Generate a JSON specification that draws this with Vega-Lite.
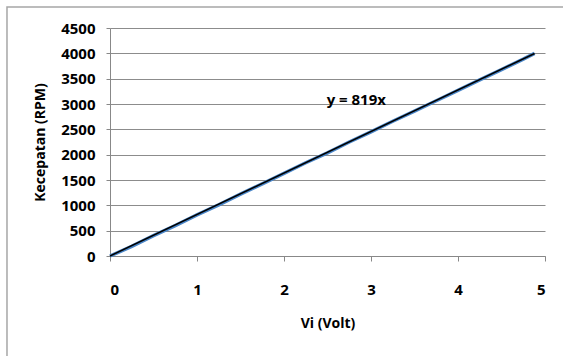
{
  "$schema": "https://vega.github.io/schema/vega-lite/v6.json",
  "width": 435,
  "height": 228,
  "autosize": "none",
  "padding": {"left": 110, "top": 28, "right": 18, "bottom": 100},
  "background": "white",
  "config": {
    "view": {"stroke": null},
    "font": "Open Sans",
    "axis": {
      "labelFont": "Open Sans",
      "labelFontWeight": "bold",
      "labelFontSize": 15,
      "labelColor": "#000",
      "titleFont": "Open Sans",
      "titleFontWeight": "bold",
      "titleFontSize": 14,
      "titleColor": "#000",
      "domainColor": "#888",
      "tickColor": "#888",
      "gridColor": "#8c8c8c",
      "gridWidth": 1
    }
  },
  "datasets": {
    "measured": [
      {"v": 0, "rpm": 0},
      {"v": 0.25, "rpm": 190},
      {"v": 0.5, "rpm": 402},
      {"v": 0.75, "rpm": 600},
      {"v": 1.0, "rpm": 812},
      {"v": 1.25, "rpm": 1010},
      {"v": 1.5, "rpm": 1220},
      {"v": 1.75, "rpm": 1425},
      {"v": 2.0, "rpm": 1630},
      {"v": 2.25, "rpm": 1840},
      {"v": 2.5, "rpm": 2035},
      {"v": 2.75, "rpm": 2250},
      {"v": 3.0, "rpm": 2450},
      {"v": 3.25, "rpm": 2660},
      {"v": 3.5, "rpm": 2860},
      {"v": 3.75, "rpm": 3065},
      {"v": 4.0, "rpm": 3270},
      {"v": 4.25, "rpm": 3475},
      {"v": 4.5, "rpm": 3680},
      {"v": 4.75, "rpm": 3885},
      {"v": 4.88, "rpm": 4000}
    ],
    "trend": [
      {"v": 0, "rpm": 0},
      {"v": 4.88, "rpm": 3997}
    ],
    "label": [
      {"v": 2.49, "rpm": 3080, "text": "y = 819x"}
    ],
    "frame": [
      {"x1": -1.184, "x2": 6, "y1": 4914, "y2": -3000}
    ]
  },
  "encoding": {
    "x": {
      "field": "v", "type": "quantitative",
      "scale": {"domain": [0, 5], "nice": false},
      "axis": {"title": "Vi (Volt)", "values": [0, 1, 2, 3, 4, 5], "format": "d", "grid": false, "tickSize": 5, "labelPadding": 21, "titlePadding": 19}
    },
    "y": {
      "field": "rpm", "type": "quantitative",
      "scale": {"domain": [0, 4500], "nice": false},
      "axis": {"title": "Kecepatan (RPM)", "values": [0, 500, 1000, 1500, 2000, 2500, 3000, 3500, 4000, 4500], "format": "d", "tickSize": 4, "labelPadding": 11, "titlePadding": 13}
    }
  },
  "layer": [
    {
      "data": {"name": "frame"},
      "mark": {"type": "rect", "fill": null, "stroke": "#a6a6a6", "strokeWidth": 1.5, "clip": false},
      "encoding": {
        "x": {"field": "x1", "type": "quantitative"},
        "x2": {"field": "x2"},
        "y": {"field": "y1", "type": "quantitative"},
        "y2": {"field": "y2"}
      }
    },
    {
      "data": {"name": "measured"},
      "mark": {"type": "line", "color": "#4a86c8", "strokeWidth": 3.5}
    },
    {
      "data": {"name": "trend"},
      "mark": {"type": "line", "color": "#000000", "strokeWidth": 1.5}
    },
    {
      "data": {"name": "label"},
      "mark": {"type": "text", "align": "left", "baseline": "middle", "font": "Open Sans", "fontWeight": "bold", "fontSize": 15, "color": "#000"},
      "encoding": {
        "text": {"field": "text"}
      }
    }
  ]
}
